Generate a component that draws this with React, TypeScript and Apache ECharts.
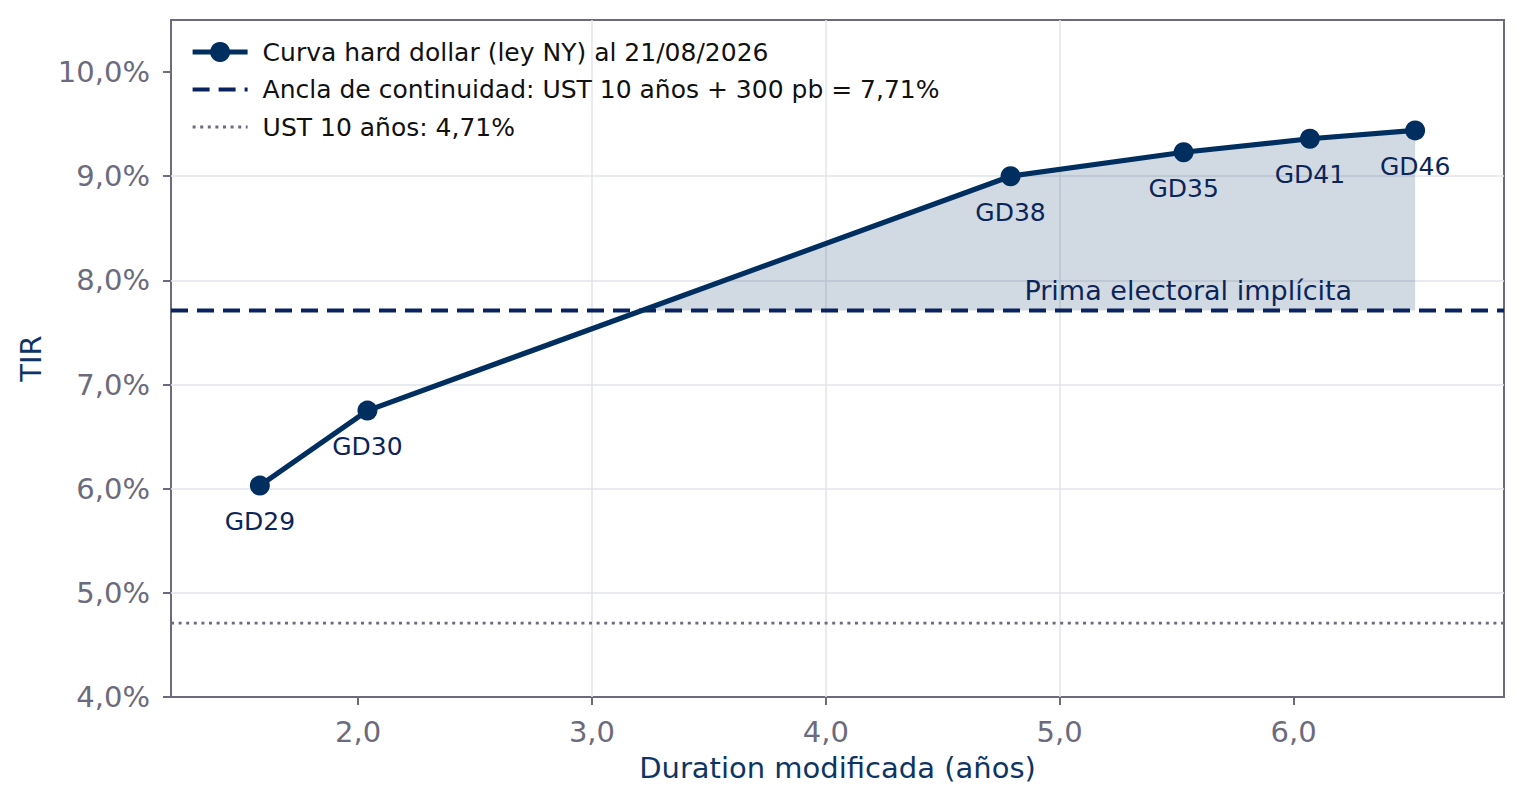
import { useEffect, useRef } from 'react';
import * as echarts from 'echarts';

// bonos de la curva hard dollar (ley NY)
const BONDS = ['GD29', 'GD30', 'GD38', 'GD35', 'GD41', 'GD46'];
const DURATION = [1.58, 2.04, 4.79, 5.53, 6.07, 6.52];
const TIR = [6.03, 6.75, 9.0, 9.23, 9.36, 9.44];

const ANCHOR = 7.71;
const UST10 = 4.71;

const X_RANGE = [1.2, 6.9];
const Y_RANGE = [4, 10.5];
const X_TICKS = [2, 3, 4, 5, 6];
const Y_TICKS = [4, 5, 6, 7, 8, 9, 10];

const CURVE_NAME = 'Curva hard dollar (ley NY) al 21/08/2026';
const ANCHOR_NAME = 'Ancla de continuidad: UST 10 años + 300 pb = 7,71%';
const UST_NAME = 'UST 10 años: 4,71%';
const PREMIUM_LABEL = 'Prima electoral implícita';
const PREMIUM_AT = [5.55, 7.9];

const NAVY = '#002f5f';
const DASH_NAVY = '#0a2260';
const LABEL_NAVY = '#0b2558';
const SPINE = '#6b6b7d';
const GRID = '#e3e5ea';
const FILL = 'rgba(0, 51, 102, 0.18)';

const fmtX = (v: number) => (X_TICKS.includes(Math.round(v * 100) / 100) ? v.toFixed(1).replace('.', ',') : '');
const fmtY = (v: number) => (Y_TICKS.includes(Math.round(v * 100) / 100) ? v.toFixed(1).replace('.', ',') + '%' : '');

// polygon between the curve and the anchor, only where the curve is above it
const premiumPolygon = () => {
  const poly: number[][] = [];
  for (let i = 0; i < DURATION.length; i++) {
    const x = DURATION[i];
    const y = TIR[i];
    if (i > 0) {
      const px = DURATION[i - 1];
      const py = TIR[i - 1];
      if ((py - ANCHOR) * (y - ANCHOR) < 0) {
        const t = (ANCHOR - py) / (y - py);
        poly.push([px + t * (x - px), ANCHOR]);
      }
    }
    if (y >= ANCHOR) poly.push([x, y]);
  }
  if (poly.length) poly.push([poly[poly.length - 1][0], ANCHOR]);
  return poly;
};

export default function App() {
  const chartRef = useRef<HTMLDivElement>(null);

  useEffect(() => {
    if (!chartRef.current) return;
    const chart = echarts.init(chartRef.current, null, { renderer: 'svg' });

    chart.setOption({
      animation: false,
      backgroundColor: '#ffffff',
      textStyle: { fontFamily: 'DejaVu Sans' },
      grid: {
        left: 171,
        right: 19,
        top: 20,
        bottom: 107,
        show: true,
        borderColor: SPINE,
        borderWidth: 2,
      },
      legend: {
        orient: 'vertical',
        left: 190,
        top: 39,
        padding: 0,
        itemWidth: 55,
        itemHeight: 25,
        itemGap: 11.5,
        selectedMode: false,
        lineStyle: { width: 'inherit' },
        textStyle: { fontSize: 25, lineHeight: 26, color: '#111111', padding: [0, 0, 0, 10] },
        data: [
          { name: CURVE_NAME },
          { name: ANCHOR_NAME, itemStyle: { opacity: 0 } },
          { name: UST_NAME, itemStyle: { opacity: 0 } },
        ],
      },
      xAxis: {
        type: 'value',
        min: X_RANGE[0],
        max: X_RANGE[1],
        name: 'Duration modificada (años)',
        nameLocation: 'middle',
        nameGap: 56,
        nameTextStyle: { color: '#0d3563', fontSize: 29 },
        axisLine: { show: false },
        axisTick: { show: true, length: 8, customValues: X_TICKS, lineStyle: { color: SPINE, width: 2 } },
        axisLabel: { customValues: X_TICKS, formatter: fmtX, color: SPINE, fontSize: 29, margin: 20 },
        splitLine: { show: true, showMinLine: false, showMaxLine: false, lineStyle: { color: GRID, width: 1.5 } },
      },
      yAxis: {
        type: 'value',
        min: Y_RANGE[0],
        max: Y_RANGE[1],
        interval: 1,
        name: 'TIR',
        nameLocation: 'middle',
        nameGap: 126,
        nameTextStyle: { color: '#0d3563', fontSize: 29 },
        axisLine: { show: false },
        axisTick: { show: true, length: 8, customValues: Y_TICKS, lineStyle: { color: SPINE, width: 2 } },
        axisLabel: { customValues: Y_TICKS, formatter: fmtY, color: SPINE, fontSize: 29, margin: 21 },
        splitLine: { show: true, showMinLine: false, showMaxLine: false, lineStyle: { color: GRID, width: 1.5 } },
      },
      series: [
        {
          type: 'custom',
          silent: true,
          z: 1,
          data: [[DURATION[0], ANCHOR]],
          encode: { x: 0, y: 1 },
          renderItem: (_params: any, api: any) => ({
            type: 'polygon',
            shape: { points: premiumPolygon().map((p) => api.coord(p)) },
            style: { fill: FILL },
          }),
        },
        {
          name: UST_NAME,
          type: 'line',
          z: 2,
          silent: true,
          symbol: 'none',
          data: [
            [X_RANGE[0], UST10],
            [X_RANGE[1], UST10],
          ],
          itemStyle: { color: SPINE },
          lineStyle: { color: SPINE, width: 2.8, type: [3, 4.6] },
        },
        {
          name: ANCHOR_NAME,
          type: 'line',
          z: 2,
          silent: true,
          symbol: 'none',
          data: [
            [X_RANGE[0], ANCHOR],
            [X_RANGE[1], ANCHOR],
          ],
          itemStyle: { color: DASH_NAVY },
          lineStyle: { color: DASH_NAVY, width: 4, type: [17, 9] },
        },
        {
          name: CURVE_NAME,
          type: 'line',
          z: 3,
          silent: true,
          symbol: 'circle',
          symbolSize: 20,
          data: DURATION.map((d, i) => [d, TIR[i]]),
          itemStyle: { color: NAVY },
          lineStyle: { color: NAVY, width: 5.2 },
          label: {
            show: true,
            position: 'inside',
            offset: [0, 36],
            formatter: (p: any) => BONDS[p.dataIndex],
            color: LABEL_NAVY,
            fontSize: 25,
          },
        },
        {
          type: 'scatter',
          z: 4,
          silent: true,
          symbolSize: 0,
          data: [PREMIUM_AT],
          itemStyle: { opacity: 1 },
          label: {
            show: true,
            position: 'inside',
            formatter: PREMIUM_LABEL,
            color: LABEL_NAVY,
            opacity: 1,
            fontSize: 27,
          },
        },
      ],
    });

    return () => {
      chart.dispose();
    };
  }, []);

  return <div ref={chartRef} style={{ position: 'fixed', left: 0, top: 0, width: 1523, height: 804 }} />;
}
